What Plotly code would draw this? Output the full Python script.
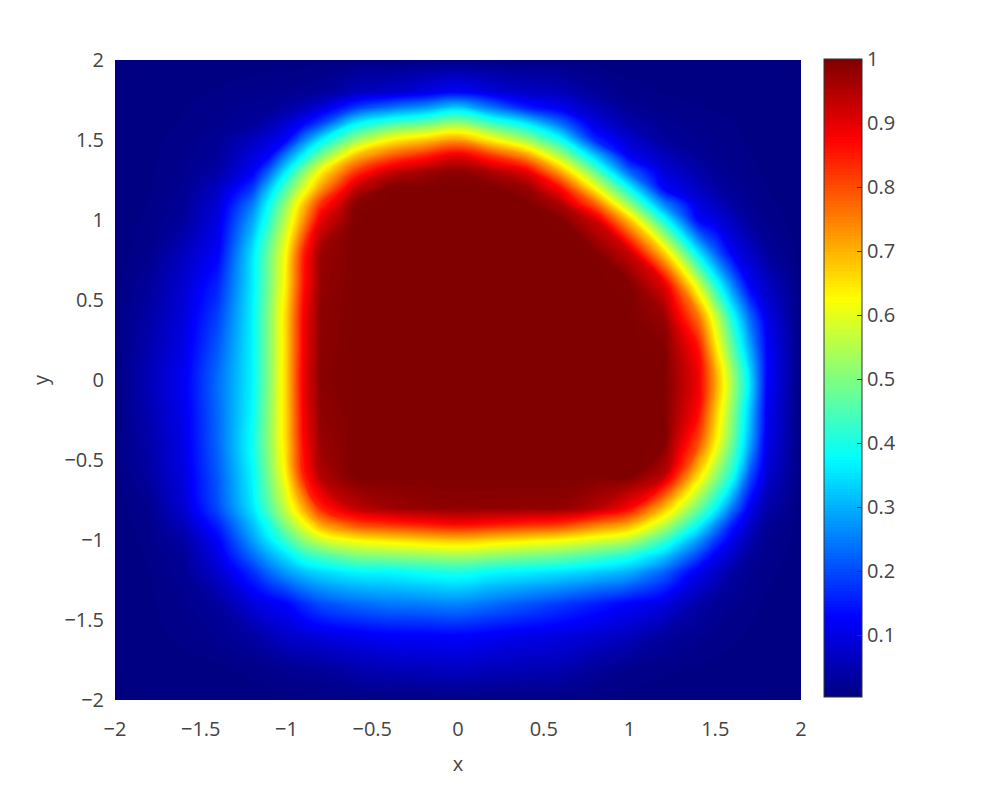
import plotly.graph_objects as go

# grid on [-2, 2] x [-2, 2]; extra lines where the bands are tight
x_vals = [-2.0, -1.8, -1.6, -1.4, -1.2, -1.1, -1.0, -0.9, -0.8, -0.6, -0.4, -0.2, 0.0,
          0.2, 0.4, 0.6, 0.8, 1.0, 1.2, 1.4, 1.5, 1.6, 1.7, 1.8, 2.0]
y_vals = [-2.0, -1.8, -1.6, -1.4, -1.2, -1.1, -1.0, -0.9, -0.8, -0.6, -0.4, -0.2, 0.0,
          0.2, 0.4, 0.6, 0.8, 1.0, 1.1, 1.2, 1.3, 1.4, 1.5, 1.6, 1.7, 1.8, 2.0]

# field values, one row per y (bottom to top)
u_rows = [
    [0.003, 0.003, 0.003, 0.003, 0.003, 0.003, 0.004, 0.004, 0.004, 0.005, 0.005, 0.006, 0.006, 0.006, 0.005, 0.005, 0.004, 0.004, 0.003, 0.003, 0.003, 0.003, 0.003, 0.003, 0.003],  # y=-2.0
    [0.003, 0.0035, 0.0045, 0.0062, 0.0107, 0.015, 0.021, 0.026, 0.030, 0.047, 0.058, 0.064, 0.069, 0.062, 0.057, 0.051, 0.030, 0.015, 0.0098, 0.0062, 0.0053, 0.0045, 0.004, 0.0035, 0.003],  # y=-1.8
    [0.003, 0.0048, 0.0103, 0.0195, 0.036, 0.056, 0.073, 0.084, 0.095, 0.109, 0.120, 0.122, 0.125, 0.114, 0.104, 0.096, 0.082, 0.062, 0.032, 0.0185, 0.0137, 0.0098, 0.0068, 0.0047, 0.003],  # y=-1.6
    [0.003, 0.0061, 0.015, 0.031, 0.090, 0.110, 0.128, 0.168, 0.200, 0.228, 0.244, 0.250, 0.257, 0.235, 0.210, 0.183, 0.154, 0.123, 0.095, 0.042, 0.0246, 0.0168, 0.0109, 0.0065, 0.003],  # y=-1.4
    [0.003, 0.0079, 0.0225, 0.078, 0.170, 0.230, 0.280, 0.318, 0.341, 0.369, 0.375, 0.389, 0.401, 0.376, 0.364, 0.350, 0.328, 0.300, 0.225, 0.110, 0.074, 0.037, 0.0198, 0.0104, 0.003],  # y=-1.2
    [0.003, 0.009, 0.027, 0.102, 0.230, 0.294, 0.350, 0.410, 0.443, 0.495, 0.510, 0.523, 0.533, 0.516, 0.497, 0.478, 0.445, 0.403, 0.323, 0.192, 0.116, 0.072, 0.029, 0.0143, 0.003],  # y=-1.1
    [0.003, 0.0107, 0.040, 0.124, 0.280, 0.357, 0.435, 0.518, 0.576, 0.628, 0.652, 0.669, 0.683, 0.664, 0.645, 0.625, 0.592, 0.552, 0.437, 0.280, 0.187, 0.106, 0.050, 0.0184, 0.003],  # y=-1.0
    [0.003, 0.0131, 0.061, 0.161, 0.315, 0.403, 0.515, 0.613, 0.716, 0.806, 0.833, 0.855, 0.875, 0.859, 0.842, 0.825, 0.767, 0.710, 0.568, 0.388, 0.275, 0.158, 0.079, 0.025, 0.003],  # y=-0.9
    [0.003, 0.017, 0.082, 0.200, 0.350, 0.457, 0.575, 0.705, 0.841, 0.934, 0.967, 0.980, 0.985, 0.983, 0.982, 0.980, 0.946, 0.875, 0.691, 0.487, 0.380, 0.244, 0.115, 0.044, 0.003],  # y=-0.8
    [0.003, 0.034, 0.098, 0.2145, 0.370, 0.497, 0.637, 0.842, 0.948, 1.0, 1.0, 1.0, 1.0, 1.0, 1.0, 1.0, 1.0, 1.0, 0.938, 0.657, 0.524, 0.398, 0.210, 0.081, 0.003],  # y=-0.6
    [0.003, 0.043, 0.104, 0.227, 0.385, 0.517, 0.663, 0.871, 0.972, 1.0, 1.0, 1.0, 1.0, 1.0, 1.0, 1.0, 1.0, 1.0, 0.997, 0.798, 0.635, 0.478, 0.296, 0.106, 0.003],  # y=-0.4
    [0.003, 0.051, 0.109, 0.230, 0.375, 0.514, 0.668, 0.883, 0.982, 1.0, 1.0, 1.0, 1.0, 1.0, 1.0, 1.0, 1.0, 1.0, 1.0, 0.870, 0.684, 0.512, 0.326, 0.118, 0.003],  # y=-0.2
    [0.003, 0.058, 0.114, 0.233, 0.368, 0.507, 0.670, 0.890, 0.990, 1.0, 1.0, 1.0, 1.0, 1.0, 1.0, 1.0, 1.0, 1.0, 1.0, 0.890, 0.720, 0.536, 0.354, 0.130, 0.003],  # y=0.0
    [0.003, 0.049, 0.103, 0.2145, 0.367, 0.507, 0.668, 0.883, 0.987, 1.0, 1.0, 1.0, 1.0, 1.0, 1.0, 1.0, 1.0, 1.0, 0.996, 0.860, 0.656, 0.472, 0.296, 0.128, 0.003],  # y=0.2
    [0.003, 0.040, 0.0925, 0.190, 0.365, 0.507, 0.667, 0.879, 0.985, 1.0, 1.0, 1.0, 1.0, 1.0, 1.0, 1.0, 1.0, 1.0, 0.972, 0.760, 0.575, 0.392, 0.229, 0.104, 0.003],  # y=0.4
    [0.003, 0.028, 0.081, 0.160, 0.357, 0.494, 0.646, 0.856, 0.978, 1.0, 1.0, 1.0, 1.0, 1.0, 1.0, 1.0, 1.0, 0.995, 0.903, 0.580, 0.406, 0.253, 0.118, 0.069, 0.003],  # y=0.6
    [0.003, 0.015, 0.061, 0.123, 0.347, 0.483, 0.627, 0.840, 0.971, 1.0, 1.0, 1.0, 1.0, 1.0, 1.0, 1.0, 0.997, 0.925, 0.668, 0.352, 0.221, 0.114, 0.073, 0.031, 0.003],  # y=0.8
    [0.003, 0.010, 0.030, 0.100, 0.287, 0.421, 0.567, 0.730, 0.898, 1.0, 1.0, 1.0, 1.0, 1.0, 1.0, 0.997, 0.920, 0.682, 0.398, 0.128, 0.096, 0.062, 0.029, 0.014, 0.003],  # y=1.0
    [0.003, 0.0085, 0.025, 0.086, 0.245, 0.385, 0.525, 0.680, 0.827, 0.991, 1.0, 1.0, 1.0, 1.0, 1.0, 0.953, 0.782, 0.518, 0.258, 0.0955, 0.065, 0.035, 0.0194, 0.0103, 0.003],  # y=1.1
    [0.003, 0.0073, 0.020, 0.066, 0.178, 0.320, 0.456, 0.590, 0.718, 0.928, 0.997, 1.0, 1.0, 0.998, 0.975, 0.862, 0.623, 0.376, 0.122, 0.067, 0.040, 0.023, 0.0143, 0.008, 0.003],  # y=1.2
    [0.003, 0.0064, 0.0165, 0.043, 0.116, 0.229, 0.368, 0.507, 0.634, 0.820, 0.928, 0.966, 0.987, 0.956, 0.900, 0.710, 0.478, 0.227, 0.092, 0.044, 0.026, 0.0175, 0.0112, 0.0067, 0.003],  # y=1.3
    [0.003, 0.0058, 0.014, 0.028, 0.093, 0.130, 0.260, 0.380, 0.492, 0.688, 0.783, 0.843, 0.901, 0.825, 0.729, 0.545, 0.326, 0.114, 0.064, 0.025, 0.018, 0.0127, 0.0085, 0.0054, 0.003],  # y=1.4
    [0.003, 0.0053, 0.012, 0.024, 0.0645, 0.092, 0.130, 0.252, 0.360, 0.520, 0.630, 0.678, 0.721, 0.633, 0.530, 0.390, 0.165, 0.080, 0.030, 0.018, 0.0138, 0.0098, 0.0067, 0.0047, 0.003],  # y=1.5
    [0.003, 0.0046, 0.0093, 0.017, 0.028, 0.052, 0.087, 0.130, 0.197, 0.370, 0.443, 0.483, 0.529, 0.447, 0.366, 0.236, 0.098, 0.045, 0.0203, 0.0134, 0.0106, 0.0087, 0.0065, 0.005, 0.003],  # y=1.6
    [0.003, 0.0042, 0.0076, 0.0134, 0.0214, 0.023, 0.037, 0.060, 0.090, 0.185, 0.242, 0.280, 0.333, 0.245, 0.157, 0.112, 0.062, 0.022, 0.0127, 0.0089, 0.0072, 0.006, 0.005, 0.004, 0.003],  # y=1.7
    [0.003, 0.0037, 0.0056, 0.009, 0.0137, 0.016, 0.018, 0.022, 0.027, 0.060, 0.075, 0.100, 0.125, 0.095, 0.070, 0.060, 0.027, 0.0114, 0.0073, 0.0056, 0.0048, 0.004, 0.0038, 0.0035, 0.003],  # y=1.8
    [0.003, 0.003, 0.003, 0.003, 0.003, 0.003, 0.003, 0.004, 0.004, 0.005, 0.006, 0.007, 0.007, 0.007, 0.006, 0.005, 0.004, 0.003, 0.003, 0.003, 0.003, 0.003, 0.003, 0.003, 0.003],  # y=2.0
]

cbar_ticks = [0.1, 0.2, 0.3, 0.4, 0.5, 0.6, 0.7, 0.8, 0.9, 1.0]

# matlab-style jet
jet = [
    [0.0, "rgb(0,0,128)"],
    [0.125, "rgb(0,0,255)"],
    [0.375, "rgb(0,255,255)"],
    [0.625, "rgb(255,255,0)"],
    [0.875, "rgb(255,0,0)"],
    [1.0, "rgb(128,0,0)"],
]

W, H = 996, 787
# page body adds 8px, so margins are 8px smaller than the target offsets
L, R, T, B = 107, 203, 52, 95
plot_w = W - L - R

fig = go.Figure()
fig.add_trace(go.Contour(
    x=x_vals, y=y_vals, z=u_rows,
    colorscale=jet, zmin=0.003, zmax=1.0,
    contours=dict(start=0.003, end=1.0, size=0.005, coloring="fill", showlines=False),
    line=dict(width=0, smoothing=1.3),
    colorbar=dict(
        x=(824 - 8 - L) / plot_w, xanchor="left", xpad=0,
        y=0.503, yanchor="middle", ypad=0, len=0.997, lenmode="fraction",
        thickness=38, outlinewidth=1, outlinecolor="#333",
        tickvals=cbar_ticks, ticks="inside", ticklen=5, tickcolor="#333",
        tickfont=dict(size=20, color="#444"),
    ),
))

fig.update_layout(
    width=W, height=H,
    margin=dict(l=L, r=R, t=T, b=B),
    paper_bgcolor="white", plot_bgcolor="white",
    font=dict(family="Open Sans, sans-serif", size=20, color="#444"),
    xaxis=dict(
        range=[-2, 2], dtick=0.5, tick0=0, showgrid=False, zeroline=False,
        showline=False, ticks="outside", ticklen=11, tickcolor="rgba(0,0,0,0)",
        title=dict(text="x", font=dict(size=20)),
    ),
    yaxis=dict(
        range=[-2, 2], dtick=0.5, tick0=0, showgrid=False, zeroline=False,
        showline=False, ticks="outside", ticklen=6, tickcolor="rgba(0,0,0,0)",
        title=dict(text="y", font=dict(size=20), standoff=10),
    ),
)

fig.write_html("out.html")
